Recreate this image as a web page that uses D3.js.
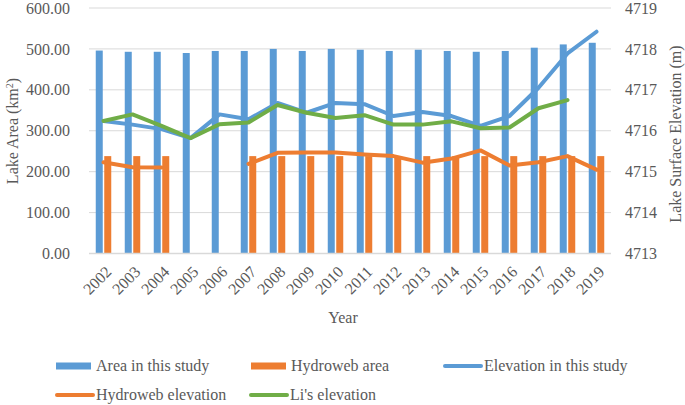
<!DOCTYPE html>
<html>
<head>
<meta charset="utf-8">
<script src="https://cdn.jsdelivr.net/npm/d3@7"></script>
<style>
  html, body { margin: 0; padding: 0; background: #fff; }
  svg { display: block; }
  svg text { font-family: "Liberation Serif", "DejaVu Serif", "Times New Roman", Times, serif !important; fill: #595959; }
</style>
</head>
<body>
<svg id="chart" width="685" height="405"></svg>
<script>
const years = ["2002","2003","2004","2005","2006","2007","2008","2009","2010","2011","2012","2013","2014","2015","2016","2017","2018","2019"];
const areaThisStudy = [496, 493, 493, 490, 495, 495, 500, 495, 500, 498, 495, 498, 495, 493, 495, 503, 511, 515];
const hydrowebArea = [238, 238, 238, null, null, 238, 238, 238, 238, 238, 238, 238, 238, 238, 238, 238, 238, 238];
const elevThisStudy = [4716.24, 4716.15, 4716.04, 4715.82, 4716.40, 4716.28, 4716.68, 4716.44, 4716.68, 4716.65, 4716.36, 4716.46, 4716.36, 4716.12, 4716.36, 4717.05, 4717.89, 4718.42];
const hydrowebElev = [4715.23, 4715.11, 4715.10, null, null, 4715.19, 4715.46, 4715.47, 4715.47, 4715.42, 4715.38, 4715.22, 4715.32, 4715.52, 4715.15, 4715.23, 4715.38, 4715.05];
const liElev = [4716.24, 4716.40, 4716.12, 4715.82, 4716.16, 4716.20, 4716.63, 4716.44, 4716.31, 4716.38, 4716.15, 4716.15, 4716.23, 4716.06, 4716.08, 4716.55, 4716.75, null];
const leftTicks = [0, 100, 200, 300, 400, 500, 600];
const rightTicks = [4713, 4714, 4715, 4716, 4717, 4718, 4719];

const BLUE = "#5b9bd5", ORANGE = "#ed7d31", GREEN = "#70ad47";
const FONT = "Liberation Serif";

const svg = d3.select("#chart");
const m = { left: 89, right: 611, top: 8, bottom: 253.5 };

const x = d3.scaleBand().domain(years).range([m.left, m.right]);
const yL = d3.scaleLinear().domain([0, 600]).range([m.bottom, m.top]);
const yR = d3.scaleLinear().domain([4713, 4719]).range([m.bottom, m.top]);

// gridlines
svg.append("g").selectAll("line").data(leftTicks.filter(d => d > 0)).join("line")
  .attr("x1", m.left).attr("x2", m.right)
  .attr("y1", d => yL(d)).attr("y2", d => yL(d))
  .attr("stroke", "#d9d9d9").attr("stroke-width", 1);

// left axis labels
const axL = d3.axisLeft(yL).tickValues(leftTicks).tickFormat(d3.format(".2f")).tickSize(0).tickPadding(0);
const gL = svg.append("g").attr("transform", `translate(70,0)`).call(axL).attr("font-family", FONT);
gL.select(".domain").remove();
gL.selectAll("text").attr("font-size", 16).attr("fill", "#595959");

// right axis labels
const axR = d3.axisRight(yR).tickValues(rightTicks).tickFormat(d3.format("d")).tickSize(0).tickPadding(0);
const gR = svg.append("g").attr("transform", `translate(625,0)`).call(axR).attr("font-family", FONT);
gR.select(".domain").remove();
gR.selectAll("text").attr("font-size", 16).attr("fill", "#595959");

// bars
const bw = 7, gap = 1.5;
const cx = d => x(d) + x.bandwidth() / 2;
svg.append("g").selectAll("rect").data(years.map((y, i) => ({ y, v: areaThisStudy[i] }))).join("rect")
  .attr("x", d => cx(d.y) - gap / 2 - bw).attr("width", bw)
  .attr("y", d => yL(d.v)).attr("height", d => yL(0) - yL(d.v))
  .attr("fill", BLUE);
svg.append("g").selectAll("rect").data(years.map((y, i) => ({ y, v: hydrowebArea[i] })).filter(d => d.v != null)).join("rect")
  .attr("x", d => cx(d.y) + gap / 2).attr("width", bw)
  .attr("y", d => yL(d.v)).attr("height", d => yL(0) - yL(d.v))
  .attr("fill", ORANGE);

// baseline axis
svg.append("line").attr("x1", m.left).attr("x2", m.right)
  .attr("y1", yL(0)).attr("y2", yL(0)).attr("stroke", "#d9d9d9").attr("stroke-width", 1.5);

// lines
function drawLine(vals, color) {
  const line = d3.line().defined(d => d.v != null)
    .x(d => cx(d.y)).y(d => yR(d.v));
  svg.append("path").datum(years.map((y, i) => ({ y, v: vals[i] })))
    .attr("d", line).attr("fill", "none").attr("stroke", color)
    .attr("stroke-width", 4).attr("stroke-linejoin", "round").attr("stroke-linecap", "round");
}
drawLine(elevThisStudy, BLUE);
drawLine(hydrowebElev, ORANGE);
drawLine(liElev, GREEN);

// x tick labels
svg.append("g").attr("font-family", FONT).selectAll("text").data(years).join("text")
  .attr("transform", d => `translate(${cx(d) + 5},${269}) rotate(-45)`)
  .attr("text-anchor", "end").attr("dy", "0.35em")
  .attr("font-size", 16).text(d => d);

// axis titles
svg.append("text").attr("font-family", FONT).attr("x", 343).attr("y", 323).attr("text-anchor", "middle")
  .attr("font-size", 16).text("Year");

const tl = svg.append("text").attr("font-family", FONT).attr("transform", "translate(18,131) rotate(-90)")
  .attr("text-anchor", "middle").attr("font-size", 16);
tl.append("tspan").text("Lake Area (km");
tl.append("tspan").attr("baseline-shift", "super").attr("font-size", 10).text("2");
tl.append("tspan").text(")");

svg.append("text").attr("font-family", FONT).attr("transform", "translate(681,134) rotate(-90)")
  .attr("text-anchor", "middle").attr("font-size", 16).text("Lake Surface Elevation (m)");

// legend
const legend = [
  { name: "Area in this study", color: BLUE, type: "rect", x: 56, y: 366 },
  { name: "Hydroweb area", color: ORANGE, type: "rect", x: 251, y: 366 },
  { name: "Elevation in this study", color: BLUE, type: "line", x: 444, y: 366 },
  { name: "Hydroweb elevation", color: ORANGE, type: "line", x: 56, y: 395 },
  { name: "Li's elevation", color: GREEN, type: "line", x: 250, y: 395 }
];
const lg = svg.append("g").attr("font-family", FONT).selectAll("g").data(legend).join("g")
  .attr("transform", d => `translate(${d.x},${d.y})`);
lg.filter(d => d.type === "rect").append("rect")
  .attr("x", 0).attr("y", -3.5).attr("width", 35).attr("height", 7).attr("fill", d => d.color);
lg.filter(d => d.type === "line").append("line")
  .attr("x1", 1).attr("x2", 37).attr("y1", 0).attr("y2", 0)
  .attr("stroke", d => d.color).attr("stroke-width", 4).attr("stroke-linecap", "round");
lg.append("text").attr("x", 40).attr("y", 5)
  .attr("font-size", 16).text(d => d.name);
</script>
</body>
</html>
